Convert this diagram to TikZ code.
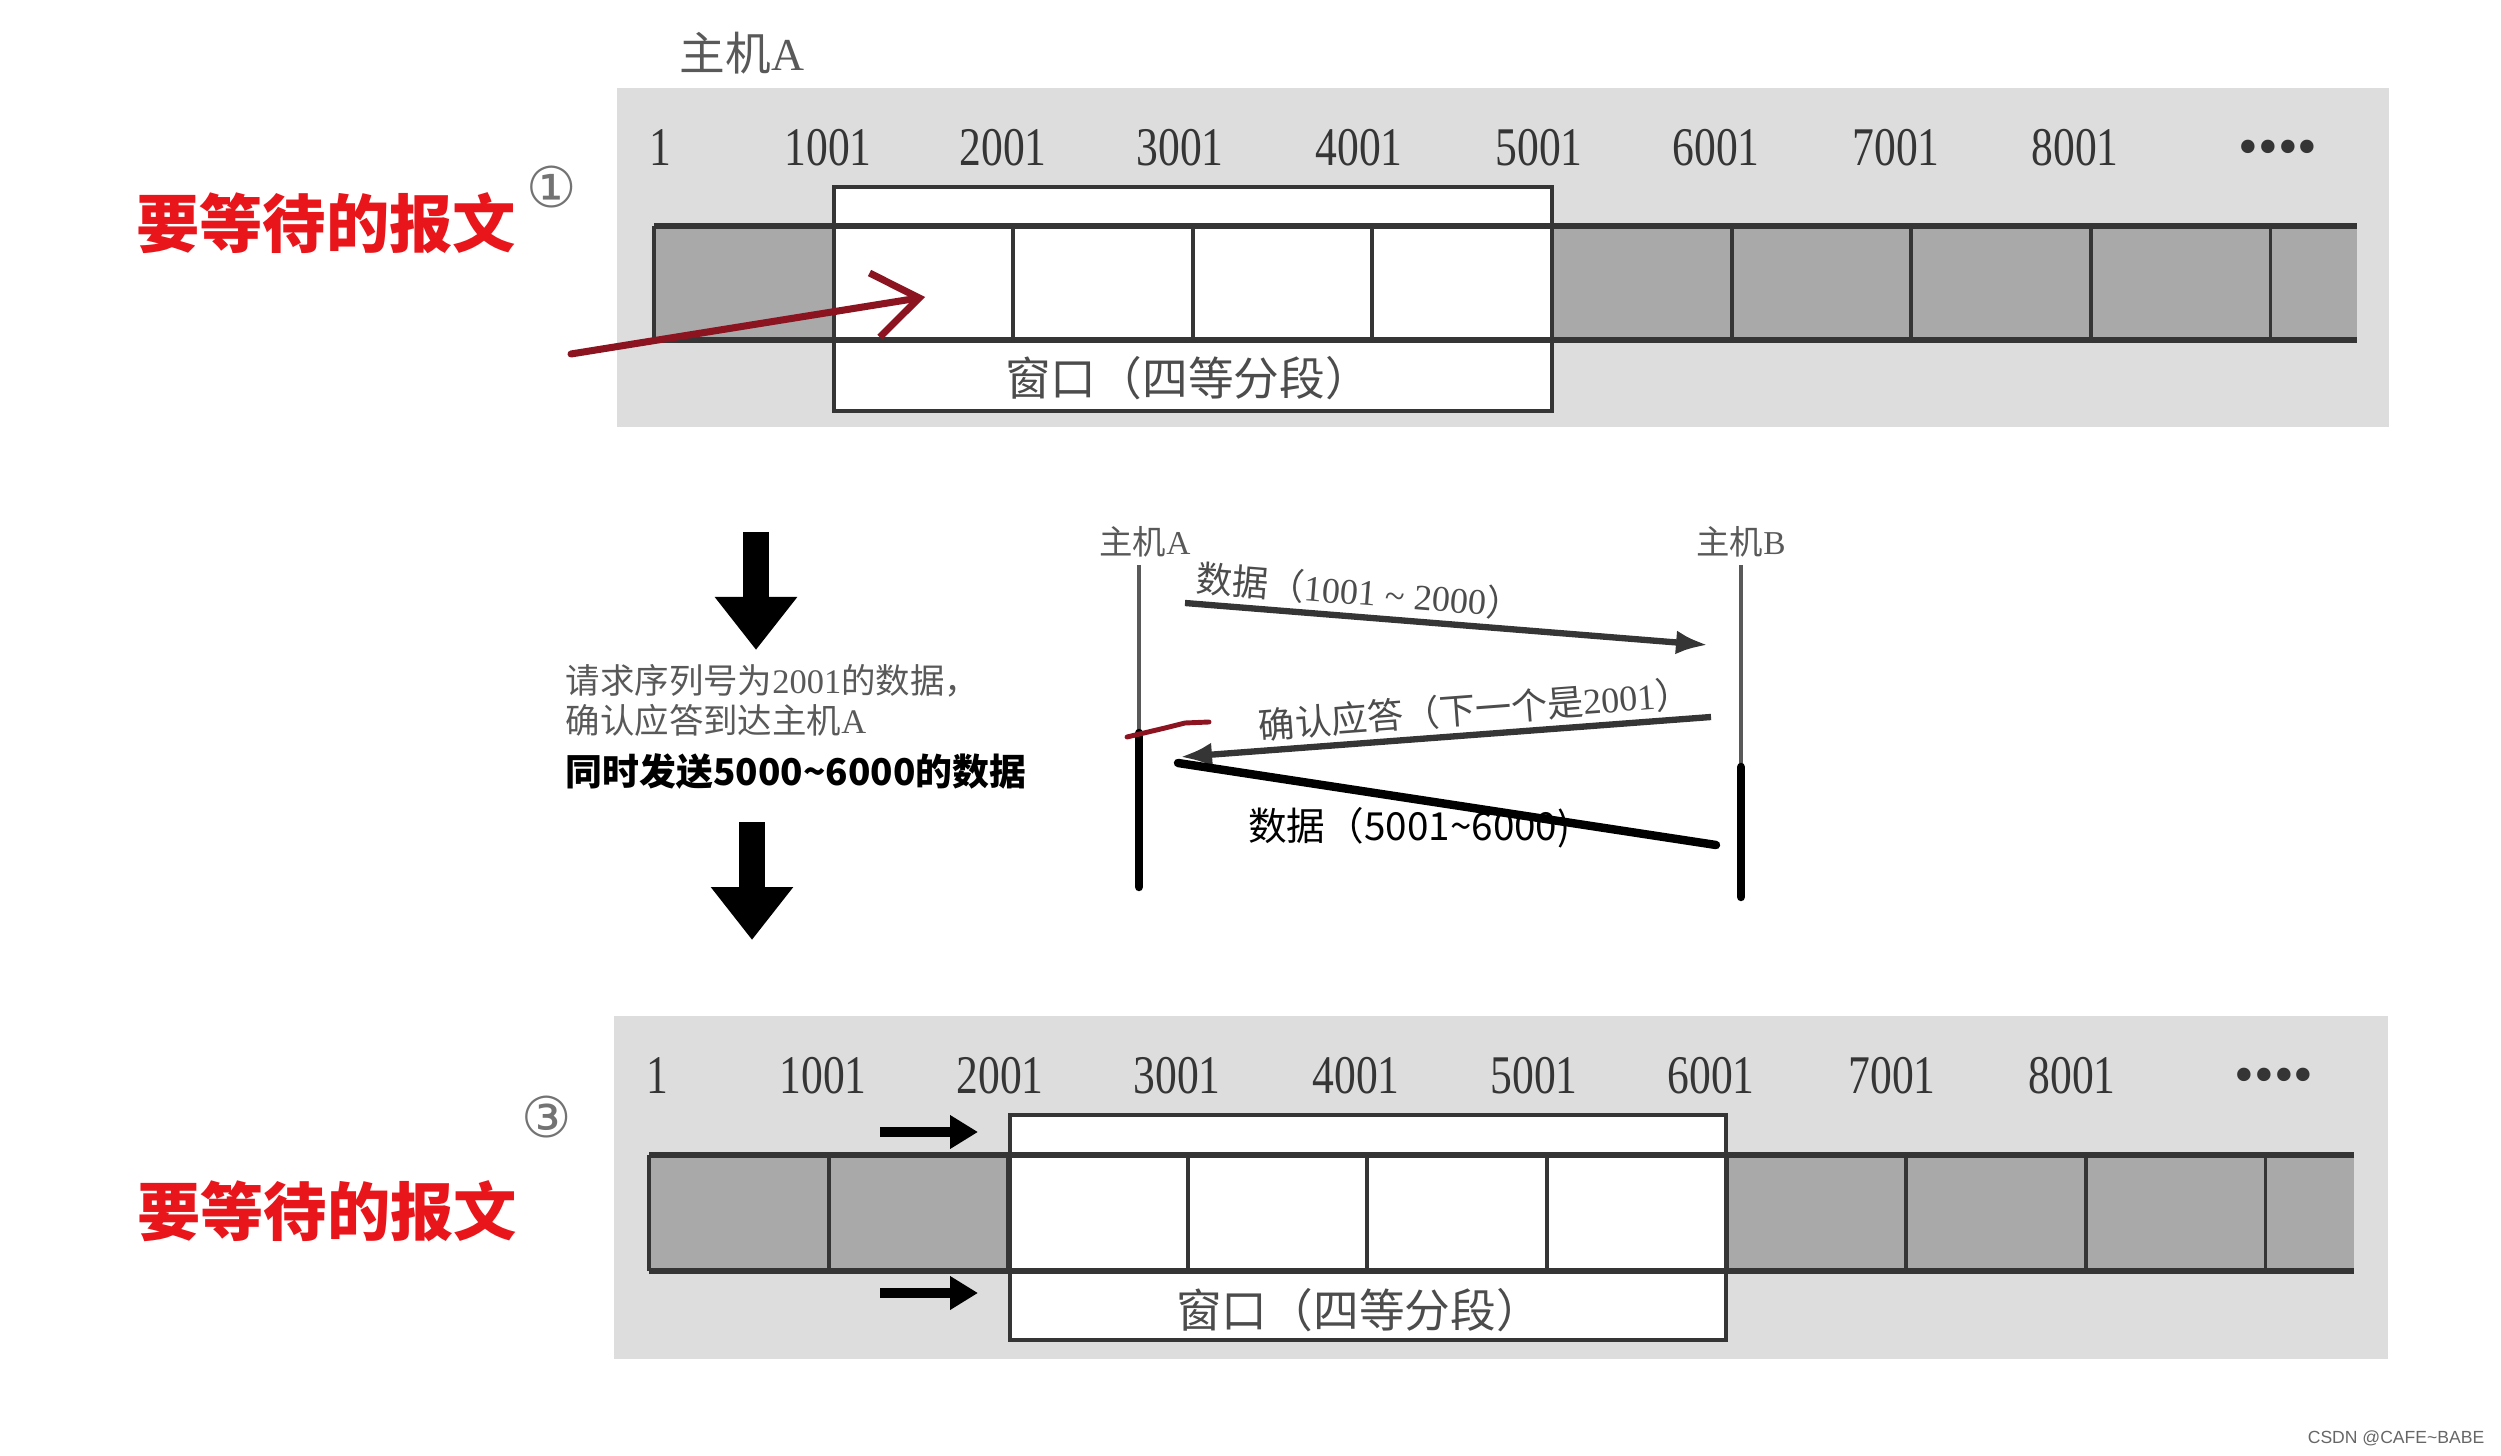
\documentclass[tikz,border=0pt]{standalone}
\usepackage{fontspec}
\usepackage{xcolor}
\usepackage{tikz}
\usetikzlibrary{arrows.meta, positioning, calc}

\setmainfont{Liberation Serif}
\newfontfamily\cjk{Noto Sans CJK SC}
\newfontfamily\numfont{Liberation Serif}[FakeStretch=0.8]
\newfontfamily\symfont{DejaVu Sans}
\newfontfamily\markfont{Liberation Sans}
\newcommand{\zh}[1]{{\cjk #1}}

\definecolor{panelgrey}{HTML}{DDDDDD}
\definecolor{cellgrey}{HTML}{A9A9A9}
\definecolor{inkgrey}{HTML}{353535}
\definecolor{waitred}{HTML}{E8151B}
\definecolor{penred}{HTML}{8C1420}

\begin{document}
\begin{tikzpicture}[x=1cm, y=-1cm,
    panel/.style={fill=panelgrey},
    window/.style={draw=inkgrey, line width=1.3pt, fill=white, inner sep=0pt},
    barline/.style={draw=inkgrey, line width=1.5pt},
    cellline/.style={draw=inkgrey, line width=1.1pt},
    num/.style={anchor=base, text=inkgrey, font=\fontsize{15.5}{17}\selectfont\numfont, inner sep=0pt},
    winlabel/.style={text=black!70, font=\fontsize{13}{15}\selectfont\cjk, inner sep=0pt},
    waitlabel/.style={text=waitred, font=\fontsize{18}{20}\selectfont\cjk\bfseries, inner sep=0pt},
    circnum/.style={text=black!55, font=\fontsize{16}{18}\selectfont\symfont, inner sep=0pt},
    title/.style={text=black!65, font=\fontsize{13}{15}\selectfont, inner sep=0pt},
    host/.style={text=black!65, font=\fontsize{9.5}{11}\selectfont, inner sep=0pt},
    msg/.style={draw=inkgrey, line width=1.8pt, -{Latex[length=3.2mm,width=2.4mm]}},
    msglabel/.style={text=black!70, font=\fontsize{10.3}{12}\selectfont, inner sep=1.5pt},
    lifeline/.style={draw=black!65, line width=1.3pt},
    handline/.style={draw=black, line width=2.4pt, line cap=round},
    bigarrow/.style={draw=black, line width=2.6mm, -{Triangle[length=5.3mm,width=7.9mm]}},
    smallarrow/.style={draw=black, line width=2.6pt, -{Triangle[length=2.8mm,width=3.2mm]}},
    penarrow/.style={draw=penred, line width=2pt, line cap=round, -{Straight Barb[length=4.5mm,width=6.5mm]}},
    note/.style={text=black!65, font=\fontsize{9.8}{11.4}\selectfont, align=left, inner sep=0pt}
]
    \useasboundingbox (0,0) rectangle (25.01,14.56);

    % window 1
    \fill[panel] (6.17,0.88) rectangle (23.89,4.27);
    \node[title] (titleA) at (7.42,0.53) {\zh{主机}A};
    \fill[cellgrey] (6.54,2.26) rectangle (23.57,3.40);
    \node[window, minimum width=7.18cm, minimum height=2.24cm] (win1) at (11.93,2.99) {};
    \draw[barline] (6.54,2.26) -- (23.57,2.26) (6.54,3.40) -- (23.57,3.40);
    \foreach \i in {0,...,9}
        \draw[cellline] (6.54+1.796*\i,2.26) -- ++(0,1.14);
    \foreach \n/\x in {1/6.60,1001/8.28,2001/10.03,3001/11.80,4001/13.59,5001/15.39,6001/17.16,7001/18.96,8001/20.75}
        \node[num] (top-\n) at (\x,1.66) {\n};
    \node[num, font=\fontsize{16}{18}\selectfont] (top-dots) at (22.78,1.66) {••••};
    \node[winlabel] (winlbl1) at (11.88,3.78) {窗口（四等分段）};
    \node[circnum] (one) at (5.52,1.87) {①};
    \node[waitlabel] (wait1) at (3.26,2.23) {要等待的报文};
    \coordinate (pen0) at (5.71,3.54);
    \coordinate (pen1) at (9.25,2.97);
    \draw[penarrow] (pen0) -- (pen1);

    % ack in between
    \coordinate (d1s) at (7.56,5.32);
    \coordinate (d1e) at (7.56,6.50);
    \draw[bigarrow] (d1s) -- (d1e);
    \node[note, anchor=west] (req) at (5.65,7.00) {\zh{请求序列号为}2001\zh{的数据，}\\\zh{确认应答到达主机}A};
    \node[anchor=west, inner sep=0pt, font=\fontsize{10.5}{13}\selectfont\cjk\bfseries] (send) at (5.65,7.72) {同时发送5000\textasciitilde6000的数据};
    \coordinate (d2s) at (7.52,8.22);
    \coordinate (d2e) at (7.52,9.40);
    \draw[bigarrow] (d2s) -- (d2e);

    \coordinate (A0) at (11.39,5.65);
    \coordinate (A1) at (11.39,7.33);
    \coordinate (A2) at (11.39,8.87);
    \coordinate (B0) at (17.41,5.65);
    \coordinate (B1) at (17.41,7.67);
    \coordinate (B2) at (17.41,8.97);
    \node[host, above=0.7mm of A0, xshift=0.6mm] (seqA) {\zh{主机}A};
    \node[host, above=0.7mm of B0] (seqB) {\zh{主机}B};
    \draw[lifeline] (A0) -- (A1);
    \draw[lifeline] (B0) -- (B1);
    \draw[handline] (A1) -- (A2);
    \draw[handline] (B1) -- (B2);

    \coordinate (m1s) at (11.85,6.03);
    \coordinate (m1e) at (17.08,6.45);
    \draw[msg] (m1s) -- node[msglabel, pos=0.33, above, sloped] (lbl1) {\zh{数据（}1001 \textasciitilde{} 2000\zh{）}} (m1e);
    \coordinate (m2s) at (17.11,7.17);
    \coordinate (m2e) at (11.80,7.57);
    \draw[msg] (m2s) -- node[msglabel, pos=0.44, above, sloped] (lbl2) {\zh{确认应答（下一个是}2001\zh{）}} (m2e);
    \coordinate (h1) at (11.78,7.63);
    \coordinate (h2) at (17.16,8.45);
    \draw[handline] (h1) -- node[pos=0.43, below=0.5mm, inner sep=0pt, font=\fontsize{11}{13}\selectfont\cjk] (lbl3) {数据（5001\textasciitilde6000)} (h2);
    \draw[penred, line width=1.4pt, line cap=round] (11.27,7.37) -- (11.65,7.28) -- (11.85,7.23) -- (12.09,7.22);

    % window 3
    \fill[panel] (6.14,10.16) rectangle (23.88,13.59);
    \fill[cellgrey] (6.49,11.55) rectangle (23.54,12.71);
    \node[window, minimum width=7.16cm, minimum height=2.25cm] (win3) at (13.68,12.275) {};
    \draw[barline] (6.49,11.55) -- (23.54,11.55) (6.49,12.71) -- (23.54,12.71);
    \foreach \i in {0,...,9}
        \draw[cellline] (6.49+1.796*\i,11.55) -- ++(0,1.16);
    \foreach \n/\x in {1/6.57,1001/8.23,2001/10.00,3001/11.77,4001/13.56,5001/15.34,6001/17.11,7001/18.92,8001/20.72}
        \node[num] (bot-\n) at (\x,10.93) {\n};
    \node[num, font=\fontsize{16}{18}\selectfont] (bot-dots) at (22.74,10.93) {••••};
    \node[winlabel] (winlbl3) at (13.59,13.10) {窗口（四等分段）};
    \node[circnum] (three) at (5.47,11.17) {③};
    \node[waitlabel] (wait3) at (3.27,12.11) {要等待的报文};
    \coordinate (sa1s) at (8.80,11.32);
    \coordinate (sa1e) at (9.78,11.32);
    \coordinate (sa2s) at (8.80,12.93);
    \coordinate (sa2e) at (9.78,12.93);
    \draw[smallarrow] (sa1s) -- (sa1e);
    \draw[smallarrow] (sa2s) -- (sa2e);

    \node[anchor=east, inner sep=0pt, text=black!60, font=\fontsize{5}{6}\selectfont\markfont] (csdn) at (24.85,14.38) {CSDN @CAFE\textasciitilde BABE};
\end{tikzpicture}
\end{document}
